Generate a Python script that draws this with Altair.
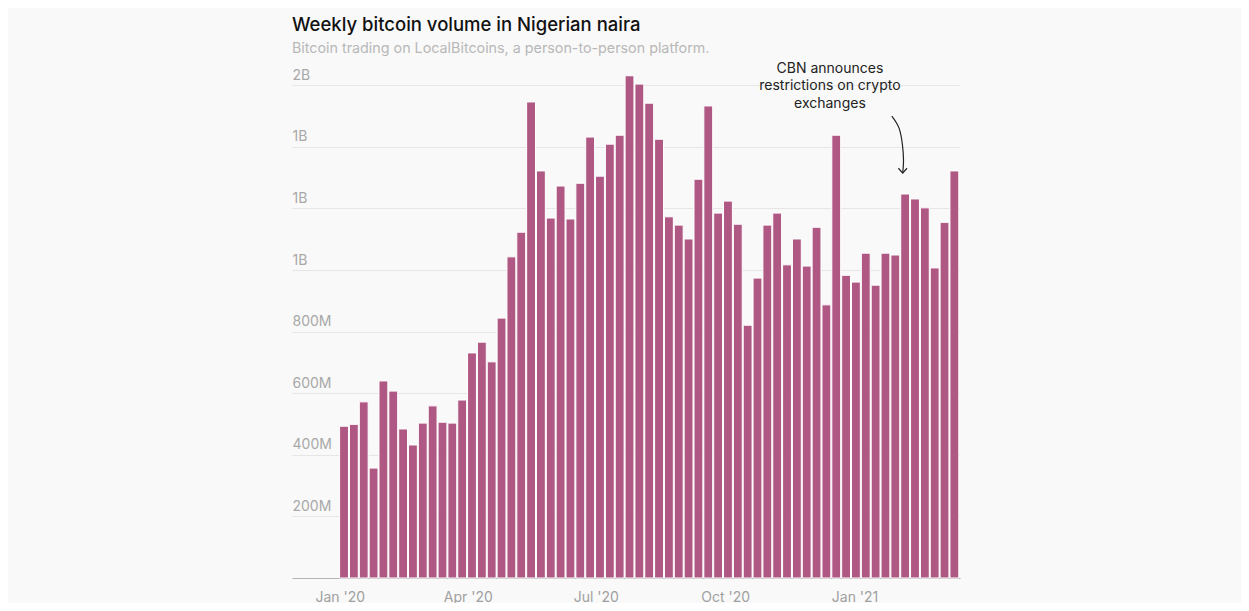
import altair as alt
import pandas as pd

# ---- data ----
first_week = "2020-01-04"
volume_m = [493, 499, 572, 357, 640, 607, 484, 432, 503, 559,
            506, 503, 578, 731, 766, 702, 844, 1043, 1123, 1546,
            1322, 1169, 1273, 1166, 1282, 1432, 1305, 1409, 1438, 1631,
            1604, 1542, 1425, 1173, 1146, 1101, 1295, 1533, 1185, 1224,
            1149, 821, 974, 1146, 1185, 1017, 1101, 1013, 1139, 887,
            1438, 983, 961, 1055, 951, 1055, 1049, 1247, 1231, 1202,
            1007, 1155, 1322]
weeks = pd.date_range(first_week, periods=len(volume_m), freq="7D").strftime("%Y-%m-%d").tolist()

y_ticks = [0, 200e6, 400e6, 600e6, 800e6, 1.0e9, 1.2e9, 1.4e9, 1.6e9]

note_lines = ["CBN announces", "restrictions on crypto", "exchanges"]
note_date = ["2020-12-14T12:00:00Z"]
note_value = [1.654e9]

arrow_dates = ["2021-01-27T12:00:00Z", "2021-02-01T16:00:00Z", "2021-02-04T02:00:00Z",
               "2021-02-04T20:00:00Z", "2021-02-04T06:00:00Z"]
arrow_values = [1.500e9, 1.461e9, 1.406e9, 1.357e9, 1.315e9]

BAR = "#af5883"
INK = "#222222"
FONT = "Inter"

bars_df = pd.DataFrame({"week": weeks, "volume": [v * 1e6 for v in volume_m]})
arrow_df = pd.DataFrame({"t": arrow_dates, "v": arrow_values, "i": list(range(len(arrow_dates)))})
note_df = pd.DataFrame({"t": note_date, "v": note_value, "txt": [note_lines]})
tip_df = arrow_df.tail(1)

x_scale = alt.Scale(type="utc", domain=["2019-11-28", "2021-03-17"], padding=0)
y_scale = alt.Scale(domain=[0, 1.64e9], nice=False, padding=0)

x_axis = alt.Axis(
    title=None,
    values=[alt.DateTime(year=2020, month=1, date=1, utc=True),
            alt.DateTime(year=2020, month=4, date=1, utc=True),
            alt.DateTime(year=2020, month=7, date=1, utc=True),
            alt.DateTime(year=2020, month=10, date=1, utc=True),
            alt.DateTime(year=2021, month=1, date=1, utc=True)],
    format="%b '%y",
    ticks=False,
    grid=False,
    domain=True,
    domainColor="#b5b5b5",
    labelColor="#a0a0a0",
    labelFontSize=14,
    labelFont=FONT,
    labelPadding=12,
)

y_axis = alt.Axis(
    title=None,
    values=y_ticks,
    labelExpr="datum.value == 0 ? '' : replace(format(datum.value, '.1s'), 'G', 'B')",
    ticks=False,
    domain=False,
    grid=True,
    gridColor="#e6e6e6",
    labelAlign="left",
    labelBaseline="bottom",
    labelPadding=0,
    labelOffset=-3,
    labelColor="#a8a8a8",
    labelFontSize=14,
    labelFont=FONT,
)

bars = alt.Chart(bars_df).mark_bar(width=8.85, color=BAR, stroke="white", strokeWidth=1).encode(
    x=alt.X("week:T", scale=x_scale, axis=x_axis),
    y=alt.Y("volume:Q", scale=y_scale, axis=y_axis),
)

arrow = alt.Chart(arrow_df).mark_line(interpolate="natural", color=INK, strokeWidth=1.2, clip=False).encode(
    x=alt.X("t:T", scale=x_scale),
    y=alt.Y("v:Q", scale=y_scale),
    order="i:Q",
)

tip = alt.Chart(tip_df).mark_point(
    shape="M-0.75,-0.85L0,0L0.75,-0.85", filled=False, size=130,
    color=INK, strokeWidth=1.2, opacity=1,
).encode(
    x=alt.X("t:T", scale=x_scale),
    y=alt.Y("v:Q", scale=y_scale),
)

note = alt.Chart(note_df).mark_text(
    align="center", baseline="middle", fontSize=14, lineHeight=17.5,
    color=INK, font=FONT,
).encode(
    x=alt.X("t:T", scale=x_scale),
    y=alt.Y("v:Q", scale=y_scale),
    text="txt",
)

chart = alt.layer(bars, arrow, tip, note).properties(
    width=668,
    height=505,
    title=alt.TitleParams(
        text="Weekly bitcoin volume in Nigerian naira",
        subtitle="Bitcoin trading on LocalBitcoins, a person-to-person platform.",
        anchor="start",
        frame="group",
        fontSize=18.5,
        fontWeight=500,
        color="#111111",
        font=FONT,
        subtitleFontSize=14.3,
        subtitleColor="#b8b8b8",
        subtitleFont=FONT,
        subtitlePadding=8,
        offset=5,
    ),
    autosize=alt.AutoSizeParams(type="none"),
    padding={"left": 284, "top": 65, "right": 281, "bottom": 25},
).configure(
    background="#f9f9f9",
).configure_view(
    stroke=None,
)

chart.save("out.html", embed_options={"renderer": "svg", "actions": False})
